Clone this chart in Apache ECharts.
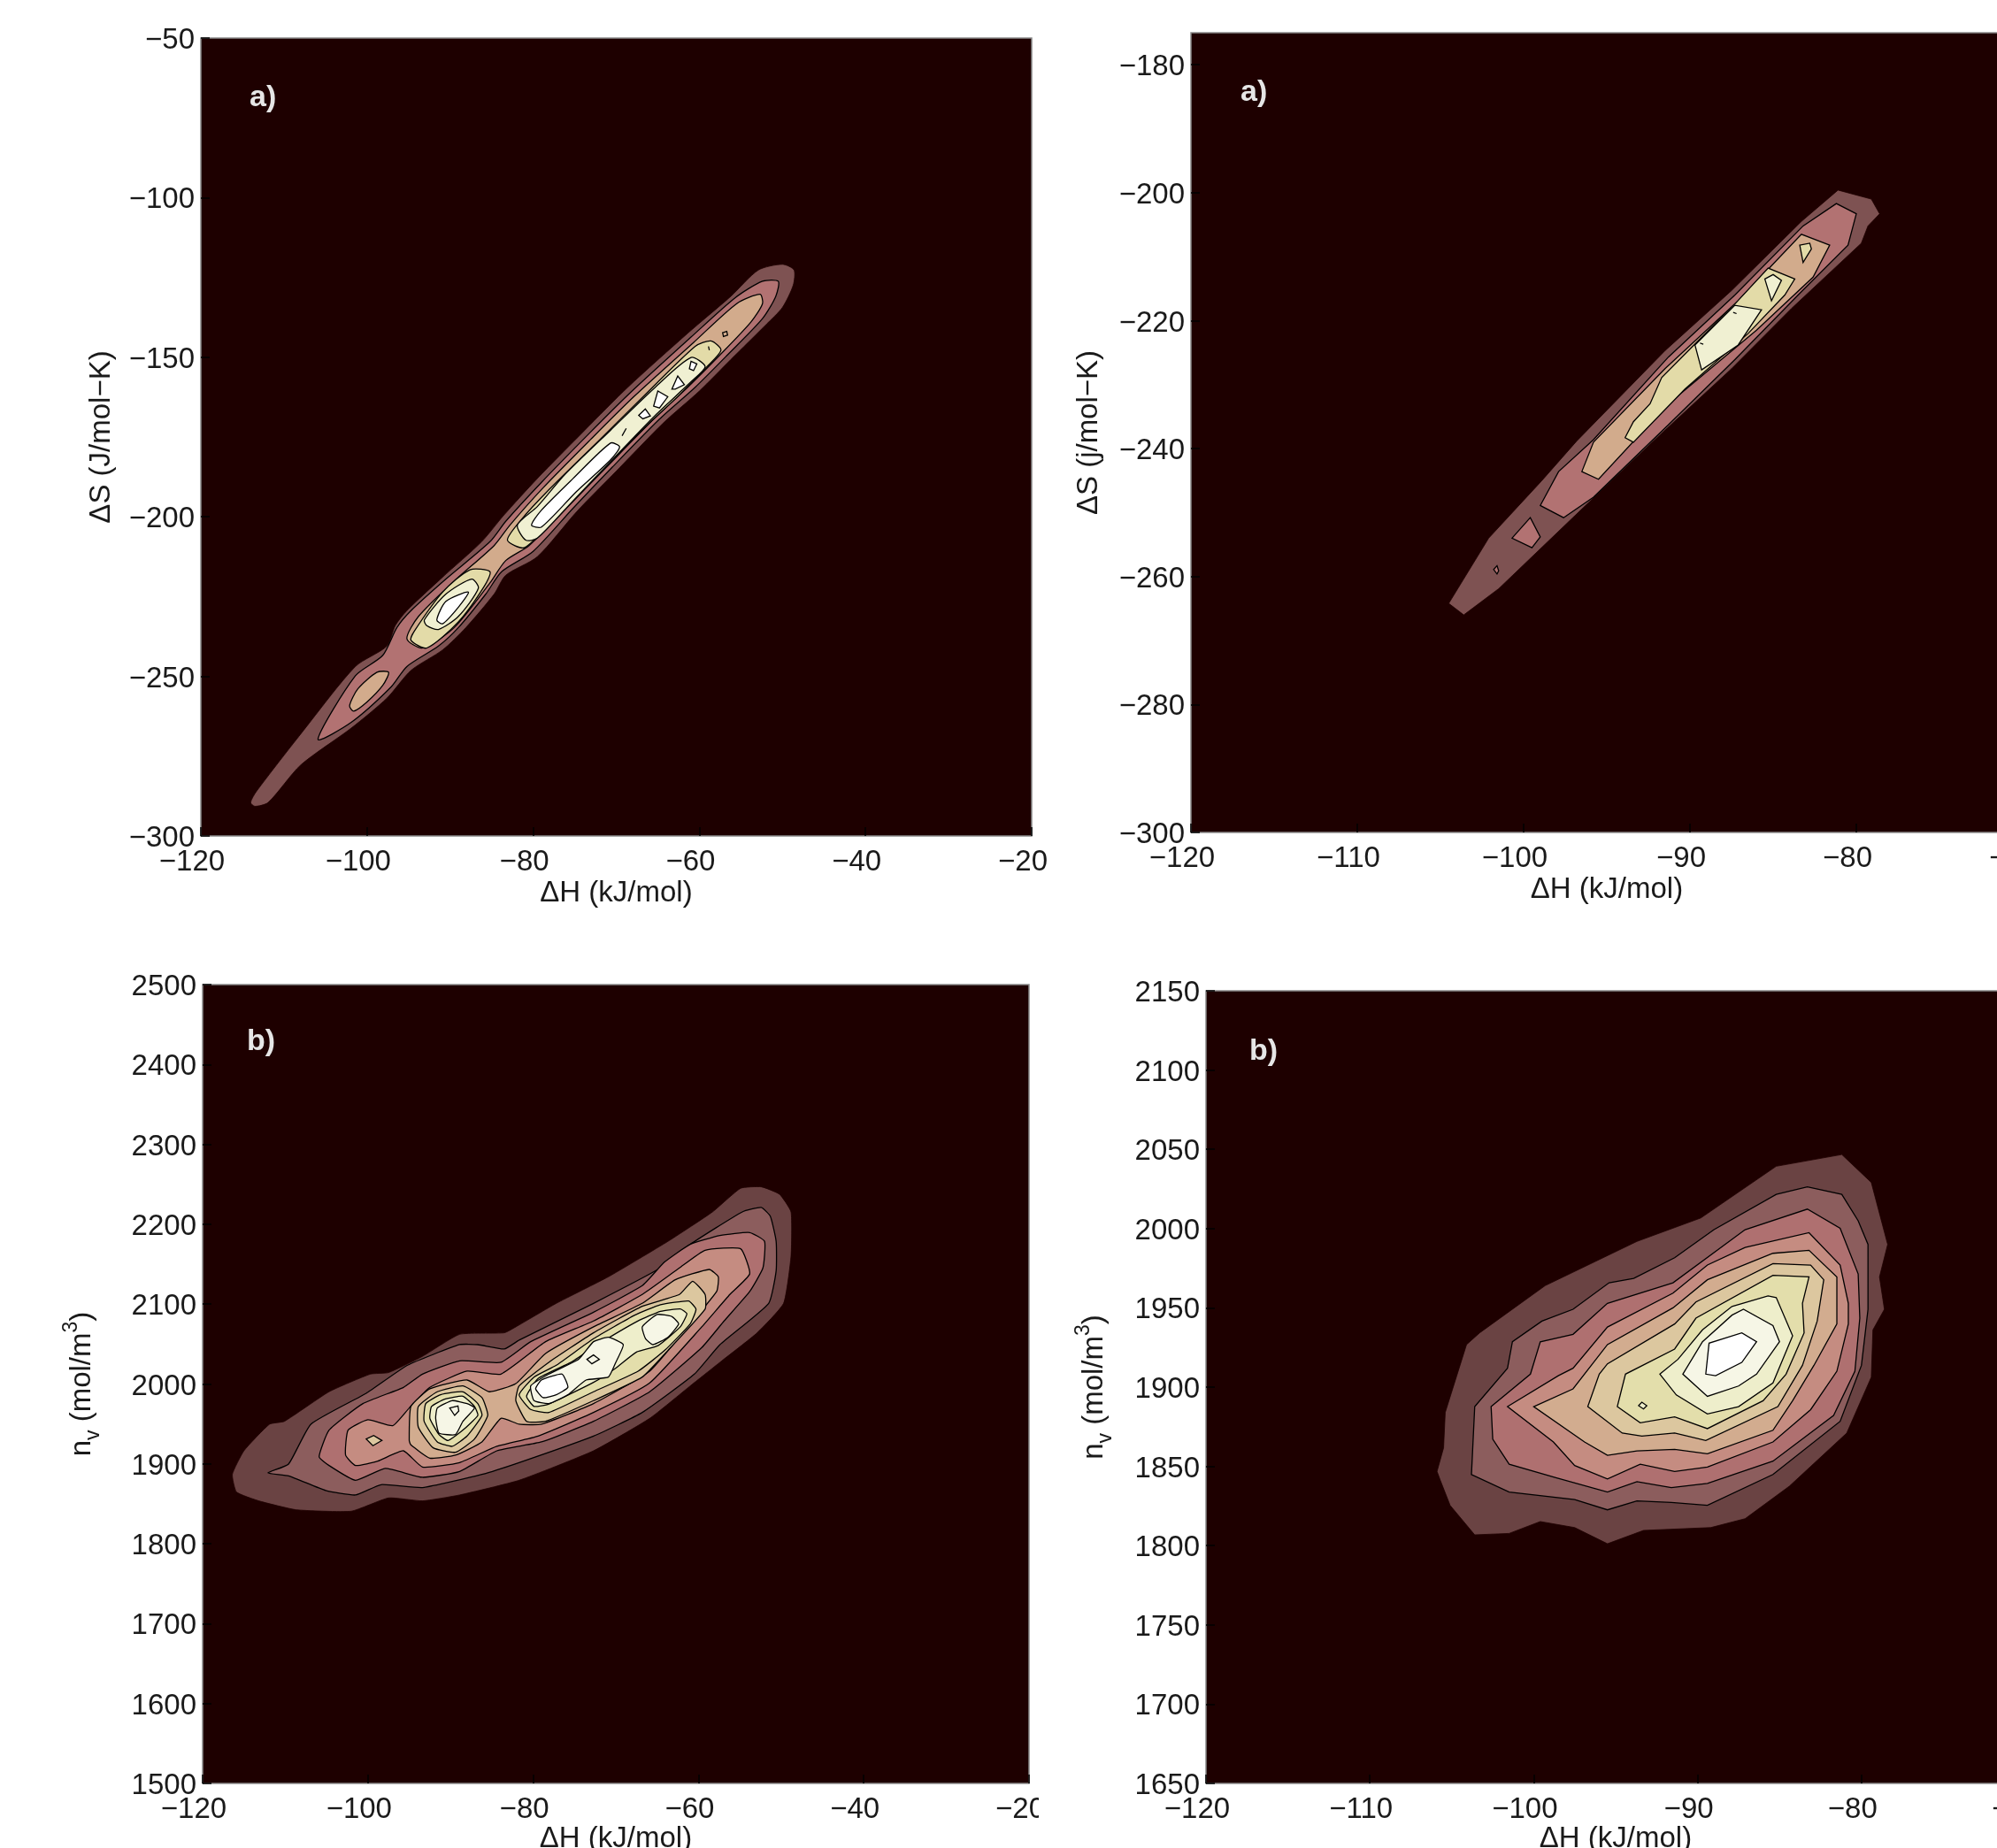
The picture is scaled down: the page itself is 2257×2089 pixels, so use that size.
<!DOCTYPE html>
<html><head><meta charset="utf-8">
<script src="https://cdn.jsdelivr.net/npm/echarts@6/dist/echarts.min.js"></script>
<style>html,body{margin:0;padding:0;background:#fff;overflow:hidden}#c{width:2257px;height:2089px}</style>
</head><body><div id="c"></div>
<script>
// ---------- panel a) left : dH vs dS (values read from the picture) ----------
const tlL1=[[-114,-289.5],[-113.3,-286],[-107.6,-266.8],[-101.4,-246.9],[-97.6,-240.5],[-96.6,-234.1],[-95.2,-229.4],[-90.9,-218.9],[-86.2,-207.8],[-83.6,-199.7],[-79.5,-188],[-73.8,-172.9],[-68.6,-159.4],[-61.4,-142.5],[-56.2,-130.9],[-52.9,-122.7],[-50,-120.9],[-48.6,-122.7],[-48.7,-127.4],[-50,-134.4],[-51.9,-139.6],[-56.2,-150.7],[-60,-160.6],[-64.3,-170.5],[-70,-185.7],[-74.8,-198.5],[-79.5,-212.5],[-83.3,-218.3],[-84.7,-224.2],[-88.1,-234.7],[-90.9,-241.7],[-94.7,-248.1],[-97.6,-256.8],[-101.9,-266.2],[-108,-277.8],[-111.9,-289.5],[-113.5,-290.7]];
const tlL2=[[-105.9,-269.7],[-101.4,-249.8],[-98.1,-243.4],[-96.4,-234.7],[-94.7,-229.4],[-90.5,-219.5],[-85.2,-207.8],[-83.3,-201.4],[-79,-189.2],[-73.3,-174],[-68.1,-160.6],[-61,-143.7],[-55.7,-131.4],[-52.4,-126.2],[-50.5,-126.2],[-50.8,-130.9],[-52.4,-137.9],[-56.7,-149.5],[-60.5,-159.4],[-64.8,-169.4],[-70.5,-184.5],[-75.2,-197.3],[-80,-210.8],[-83.8,-217.2],[-85.7,-224.2],[-89,-234.7],[-91.4,-240.5],[-95.2,-246.9],[-97.1,-253.3],[-101.9,-264.4]];
const tlL3a=[[-102.1,-259.2],[-101.1,-253.9],[-98.8,-248.7],[-97.4,-248.7],[-98.1,-252.8],[-100,-258],[-101.6,-260.9]];
const tlL3b=[[-95.2,-238.2],[-93.8,-231.2],[-89.5,-220.1],[-84.7,-209],[-82.8,-202.6],[-78.8,-190.9],[-73.1,-175.8],[-67.9,-162.4],[-60.7,-145.4],[-55.5,-133.2],[-52.7,-130.3],[-52.4,-133.2],[-53.8,-139],[-57.6,-149.5],[-61.4,-159.4],[-65.5,-169.4],[-71.2,-184.5],[-76,-197.3],[-80.5,-209],[-83.3,-213.7],[-85.2,-220.7],[-89.5,-234.7],[-93.3,-241.1]];
const tlL4a=[[-94.3,-235.8],[-90.9,-223.6],[-87.6,-216.6],[-85.2,-217.2],[-85.9,-221.8],[-89,-232.9],[-92.8,-241.1],[-94.7,-238.7]];
const tlL4b=[[-83.1,-207.3],[-81.4,-200.8],[-78.1,-191.5],[-72.4,-176.9],[-67.2,-163.5],[-60.5,-146.6],[-58.6,-144.9],[-57.4,-147.8],[-59.1,-153],[-62.4,-161.8],[-66.2,-171.1],[-71.9,-185.7],[-76.7,-198.5],[-81,-209.6]];
const tlL5a=[[-93.1,-232.3],[-90.5,-224.2],[-87.4,-219.5],[-86.6,-222.4],[-89,-231.2],[-91.4,-235.3],[-92.8,-234.1]];
const tlL5b=[[-81.9,-202.6],[-79.5,-196.8],[-76.2,-186.8],[-70.7,-172.9],[-65.3,-159.4],[-61,-150.1],[-59.3,-153],[-61,-157.7],[-65.3,-168.2],[-70.5,-182.2],[-75.2,-195],[-79.5,-206.7],[-80.9,-207.3]];
const tlL6a=[[-91.6,-232.3],[-90.5,-226.5],[-87.8,-223.6],[-89,-228.3],[-90.9,-233.5]];
const tlL6b=[[-80.2,-202.6],[-79,-197.9],[-75.2,-188],[-70.7,-176.9],[-69.6,-178.1],[-70.7,-182.2],[-74.8,-192.1],[-79,-203.2]];
const tlL6c=[[-67.3,-168.2],[-66.5,-166.2],[-65.9,-168.4],[-66.8,-169.3]];
const tlL6d=[[-65.5,-165.3],[-65,-160.6],[-63.8,-162.4],[-64.8,-165.9]];
const tlL6e=[[-63.3,-160],[-62.6,-155.9],[-61.8,-158.6],[-62.9,-160]];
const tlL6f=[[-61.2,-153.6],[-61,-151.3],[-60.3,-152.1],[-60.7,-154.2]];
const tlDot1=[[-69.3,-174.6],[-68.8,-172.3]];
const tlDot2=[[-57.2,-142.3],[-56.7,-141.9],[-56.6,-143.1],[-57.1,-143.5]];
const tlDot3=[[-58.9,-146.6],[-58.8,-147.8]];

// ---------- panel a) right ----------
const trL1=[[-104.5,-264.2],[-102.1,-254],[-98.9,-245],[-96.8,-238.8],[-91.5,-224.7],[-87.5,-215.3],[-83.3,-204.5],[-81.1,-199.6],[-79.1,-201],[-78.6,-203.3],[-79.3,-205.2],[-79.7,-207.9],[-83.9,-218.1],[-87.5,-227.5],[-91.7,-237.6],[-96.4,-249.2],[-101.5,-261.9],[-103.6,-266]];
const trL2a=[[-99,-248.9],[-97.9,-243.6],[-95.8,-238.6],[-91.3,-225.7],[-87.3,-216],[-83.2,-205.2],[-81.2,-201.7],[-80,-203.3],[-80.5,-208.2],[-83.5,-216],[-87.3,-226.1],[-91.3,-236.3],[-95.8,-247.6],[-97.6,-250.8]];
const trL2b=[[-100.7,-254],[-99.6,-250.8],[-99,-253.8],[-99.5,-255.5]];
const trL2c=[[-101.8,-258.9],[-101.6,-258.3],[-101.5,-259.1],[-101.6,-259.6]];
const trL3=[[-96.5,-243.6],[-95.8,-239],[-91.5,-227.5],[-87.1,-216.9],[-83.3,-206.5],[-81.6,-208.2],[-82.6,-213.2],[-86,-221.5],[-91.3,-233],[-95.5,-244.8]];
const trL4a=[[-93.9,-238.3],[-93.4,-235.8],[-92.4,-233],[-91.7,-228.9],[-89.6,-223.4],[-87.3,-217.4],[-85.3,-211.8],[-83.7,-213.5],[-84.3,-216],[-86.5,-222],[-90.3,-230.7],[-93.4,-239]];
const trL4b=[[-83.4,-208.2],[-82.8,-207.9],[-82.7,-208.8],[-83.2,-210.9]];
const trL5a=[[-89.7,-223.8],[-87.3,-217.6],[-85.7,-218.3],[-87.1,-223.8],[-89.3,-227.7]];
const trL5b=[[-85.5,-213.5],[-85,-212.8],[-84.5,-213.7],[-85.1,-216.9]];
const trDot1=[[-87.4,-218.7],[-87.2,-218.9]];
const trDot2=[[-89.4,-223.5],[-89.2,-223.7]];

// ---------- panel b) left : dH vs nv ----------
const blL1=[[-116.4,1886.9],[-115,1916.4],[-111.9,1949.7],[-110.1,1953.3],[-104.7,1990.3],[-99.7,2012.4],[-97.5,2014.3],[-93.4,2034.6],[-88.9,2062.2],[-83.5,2064.1],[-82.1,2071.5],[-77.2,2101],[-70.9,2134.2],[-63.7,2178.5],[-58.3,2215.4],[-54.9,2245],[-52.4,2246.8],[-50.2,2237.6],[-48.8,2215.4],[-48.8,2160],[-49.7,2101],[-52.9,2064.1],[-57.4,2027.2],[-61,1997.6],[-65.9,1957],[-72.7,1916.4],[-81.7,1879.5],[-88.9,1861.1],[-93.4,1853.7],[-97.5,1857.4],[-102,1840.8],[-108.7,1842.6],[-113.2,1853.7],[-115.9,1864.8]];
const blL2=[[-112.1,1888.7],[-109.6,1899.8],[-106.9,1949.7],[-100.2,1988.4],[-95.2,2023.5],[-88.9,2049.3],[-86.7,2049.3],[-83.5,2043.8],[-81.7,2054.9],[-72.7,2101],[-64.6,2145.3],[-61,2174.8],[-54.7,2215.4],[-52.4,2221],[-51.3,2209.9],[-50.6,2178.5],[-50.6,2141.6],[-51.5,2101],[-57.4,2049.3],[-60.5,2012.4],[-66.8,1964.4],[-72.7,1934.9],[-81.7,1901.7],[-86.2,1886.9],[-93.4,1870.3],[-98.4,1874],[-101.5,1861.1],[-105.1,1866.6],[-109.6,1885]];
const blL3=[[-105.9,1909],[-104.7,1942.3],[-100.6,1975.5],[-95.7,1995.8],[-93.4,2012.4],[-88.9,2029],[-83.9,2027.2],[-80.3,2053],[-72.7,2089.9],[-66.8,2123.1],[-64.1,2152.7],[-61,2174.8],[-57.4,2185.9],[-53.8,2189.6],[-52,2178.5],[-52.2,2145.3],[-53.8,2115.8],[-56.9,2078.9],[-59.6,2045.6],[-65.9,1990.3],[-72.7,1953.3],[-79,1927.5],[-84.4,1916.4],[-88.9,1890.6],[-93.4,1883.2],[-97.9,1894.3],[-101.5,1879.5],[-104.7,1898]];
const blL4=[[-102.7,1910.9],[-102.4,1942.3],[-100,1955.2],[-97,1947.8],[-95,1970],[-92.5,1995.8],[-88,2016.1],[-83.9,2012.4],[-78.5,2053],[-72.7,2078.9],[-66.8,2112.1],[-62.3,2145.3],[-59.2,2167.4],[-54.9,2169.3],[-53.8,2137.9],[-56.2,2112.1],[-59.6,2071.5],[-65.9,2001.3],[-72.7,1964.4],[-79.4,1934.9],[-84.4,1922],[-88.9,1901.7],[-93.4,1896.1],[-95.7,1916.4],[-98.8,1903.5],[-101.5,1898]];
const blL5=[[-95,1929.3],[-94.8,1971.8],[-92.5,1994],[-88,2005],[-85.3,1990.3],[-82.1,2000.5],[-78.5,2038.2],[-72.7,2071.5],[-66.8,2101],[-62.8,2130.5],[-58.7,2143.4],[-57.6,2134.2],[-57.8,2115.8],[-61.9,2064.1],[-65.9,2016.1],[-72.7,1975.5],[-79,1949.7],[-81.7,1949.7],[-83.9,1957],[-86.2,1927.5],[-89.4,1910.9],[-92.5,1907.2],[-94.8,1923.8]];
const blRing=[[-100.2,1931.2],[-99.3,1935.6],[-98.3,1929.3],[-99.4,1922.7]];
const blL6a=[[-93.9,1946],[-93.9,1971.8],[-91.6,1990.3],[-88.5,1997.6],[-86.2,1982.9],[-85.5,1960.7],[-87.1,1931.2],[-89.4,1914.6],[-92.1,1920.1]];
const blL6b=[[-82.1,1979.2],[-81.7,1997.6],[-78.1,2027.2],[-72.7,2064.1],[-66.8,2097.3],[-62.3,2112.1],[-60.7,2128.7],[-59.2,2112.1],[-59.2,2093.6],[-63.7,2042],[-66.8,2008.7],[-72.7,1979.2],[-78.5,1953.3],[-80.8,1953.3]];
const blL7a=[[-93.2,1953.3],[-93,1975.5],[-91.2,1986.6],[-88.5,1990.3],[-86.7,1975.5],[-86.2,1960.7],[-88,1934.9],[-89.8,1922],[-91.6,1927.5]];
const blL7b=[[-81.7,1986.6],[-79.9,2008.7],[-77.2,2023.5],[-72.7,2056.7],[-67.7,2086.2],[-64.6,2099.2],[-61.2,2104],[-60.3,2093.6],[-61,2075.2],[-64.1,2042],[-67.3,2016.1],[-72.7,1990.3],[-78.1,1964.4],[-80.3,1968.1]];
const blL8a=[[-92.5,1957],[-92.3,1971.8],[-90.7,1981],[-88.5,1984.7],[-87.1,1971.8],[-86.7,1960.7],[-88.5,1942.3],[-90.3,1929.3],[-91.4,1936.7]];
const blL8b=[[-80.8,1984.7],[-79.4,2006.9],[-75.4,2027.2],[-72.2,2049.3],[-67.3,2079],[-64.6,2091],[-62.2,2094],[-61.4,2088],[-62.2,2071.5],[-64.9,2048],[-67.5,2040],[-70,2020],[-72.7,2002],[-78.1,1975],[-79.9,1972]];
const blL9a=[[-91.8,1957],[-91.6,1970],[-89.8,1979.2],[-88,1975.5],[-87.1,1970],[-88.5,1953.3],[-89.4,1936.7],[-91.4,1938.6]];
const blL9b=[[-80.3,1997.6],[-78.1,2012.4],[-74.5,2030.9],[-72.7,2053],[-70.9,2058.5],[-69.1,2049.3],[-70,2027.2],[-70.9,2008.7],[-73.6,2005],[-75.8,1986.6],[-78.1,1975.5],[-79.9,1979.2]];
const blL9c=[[-66.8,2071.5],[-65,2087],[-63.2,2084.4],[-62.4,2075.2],[-63.7,2058.5],[-65.5,2049.3],[-66.4,2056.7]];
const blL10a=[[-79.7,1994],[-79,2005],[-76.5,2012.4],[-75.8,1995.8],[-77.2,1986.6],[-78.8,1982.9]];
const blL10b=[[-73.5,2030.9],[-72.7,2036.4],[-72,2030.9],[-72.9,2025.3]];
const blL10c=[[-90.1,1970],[-89.1,1972.5],[-89,1966.3],[-89.5,1960.7]];

// ---------- panel b) right ----------
const brL1=[[-105.9,1846.8],[-105.5,1861.7],[-105.4,1884],[-104.1,1926.8],[-103.3,1934.2],[-99.3,1964],[-93.7,1991.9],[-89.8,2006.7],[-85.2,2039.3],[-81.2,2046.7],[-79.4,2029.1],[-78.4,1990],[-78.9,1969.5],[-78.6,1949.1],[-79.3,1936.1],[-79.4,1906.3],[-80.9,1871],[-84.4,1837.5],[-87.1,1817],[-89.2,1811.4],[-93.3,1809.6],[-95.5,1801.2],[-97.5,1811.4],[-99.6,1815.2],[-101.5,1807.7],[-103.6,1806.8],[-105.1,1825.4],[-105.7,1841.2]];
const brL2=[[-103.8,1844.9],[-103.6,1887.7],[-101.6,1911.9],[-101.3,1928.6],[-99.5,1941.6],[-97.6,1949.1],[-95.4,1965.8],[-93.9,1968.6],[-91.4,1981.6],[-89,1999.3],[-85.2,2021.6],[-83.3,2026.3],[-81.2,2021.6],[-80.2,2004.9],[-79.6,1990],[-79.6,1949.1],[-80,1913.7],[-81.3,1878.4],[-85.4,1844.9],[-89.4,1825.4],[-91.6,1827.2],[-93.7,1828.2],[-95.5,1822.6],[-97.5,1829.1],[-101.5,1833.8]];
const brL3=[[-102.6,1887.7],[-100.2,1908.2],[-99.6,1928.6],[-97.6,1933.3],[-95.5,1952.8],[-91.5,1965.8],[-87.1,1999.3],[-83.3,2012.3],[-81.3,2000.2],[-80.2,1971.4],[-80.1,1943.5],[-80.4,1910],[-81.7,1882.1],[-85.4,1853.3],[-89.4,1839.3],[-91.6,1836.6],[-93.7,1840.3],[-95.5,1833.8],[-98.7,1843],[-101.5,1851.4],[-102.5,1867.2]];
const brL4=[[-101.6,1887.7],[-98.5,1907.2],[-97.6,1911.9],[-95.5,1937.9],[-91.5,1959.3],[-89.4,1977],[-87.1,1988.1],[-83.2,1997.4],[-81.3,1977],[-80.8,1952.8],[-80.8,1939.8],[-81.5,1910],[-83.1,1885.8],[-85.4,1865.4],[-89.4,1849.6],[-91.4,1846.8],[-93.5,1851.4],[-95.5,1842.1],[-97.5,1850.5],[-98.8,1865.4]];
const brL5=[[-100,1887.7],[-97.6,1898.9],[-95.5,1926.8],[-91.5,1950],[-89.4,1967.7],[-85.4,1984.4],[-83.2,1986.3],[-81.5,1969.5],[-81.5,1939.8],[-82.9,1913.7],[-84.2,1891.4],[-85.4,1872.8],[-89.4,1857.9],[-91.4,1860.7],[-93.7,1859.8],[-95.5,1857],[-96.9,1865.4]];
const brL6=[[-96.7,1887.7],[-96,1908.2],[-95.5,1914.7],[-91.4,1939.8],[-90.1,1953.7],[-85.4,1977.9],[-83.1,1977],[-82.3,1967.7],[-82.7,1941.6],[-83.6,1913.7],[-85.1,1887.7],[-89.5,1866.3],[-91.4,1871],[-93.4,1869.1],[-94.6,1871]];
const brL7=[[-94.9,1887.7],[-94.4,1908.2],[-91.4,1924],[-90.1,1943.5],[-85.4,1970.5],[-83.2,1969.5],[-83.6,1952.8],[-83.5,1934.2],[-84.6,1908.2],[-86,1891.4],[-89.4,1873.8],[-91.4,1881.2],[-93.5,1877.5]];
const brL8=[[-92.3,1908.2],[-91.2,1917.5],[-89.7,1936.1],[-87.9,1950.9],[-85.7,1957.5],[-85.2,1956.5],[-84.2,1932.3],[-85.4,1902.6],[-87.5,1887.7],[-89.4,1883.1],[-91.3,1895.1]];
const brL9=[[-90.9,1908.2],[-89.7,1928.6],[-87.9,1945.4],[-87.2,1949.1],[-85.4,1938.8],[-85,1928.6],[-86.4,1908.2],[-87.5,1900.7],[-89.4,1894.2]];
const brL10=[[-89.5,1908.2],[-89.3,1927.7],[-87.3,1934.2],[-86.4,1928.6],[-87.3,1915.6],[-88.9,1907.2]];
const brRing=[[-93.6,1888.3],[-93.4,1890.5],[-93.1,1888.3],[-93.3,1886.2]];

// fill colours per contour level (0 = field background)
const bgColor='#1e0000';
const levelsA=['#7e5252','#b27272','#d2ab8c','#e3dba8','#f0f0d2','#ffffff'];
const levelsB=['#6a4343','#8c5d5d','#af7070','#c58c81','#d2ac8f','#dcc79f','#e3deab','#eeeecb','#f6f6e6','#ffffff'];

const xLabelName='\u0394H (kJ/mol)';
const panels=[
 {grid:{left:227,top:43,width:939,height:902},x:[-120,-20,20],y:[-300,-50,50],name:'\u0394S (J/mol\u2212K)',xGap:48,yGap:96,tag:'a)',tagPos:[282,94],colors:levelsA,smooth:0.25,
  polys:[[tlL1,0],[tlL2,1],[tlL3a,2],[tlL3b,2],[tlL4a,3],[tlL4b,3],[tlL5a,4],[tlL5b,4],[tlL6a,5],[tlL6b,5],[tlL6c,5],[tlL6d,5],[tlL6e,5],[tlL6f,5],[tlDot1,4],[tlDot2,2],[tlDot3,3]]},
 {grid:{left:1346,top:37,width:940,height:904},x:[-120,-70,10],y:[-300,-175,20],name:'\u0394S (j/mol\u2212K)',xGap:48,yGap:99,tag:'a)',tagPos:[1402,88],colors:levelsA,smooth:0,
  polys:[[trL1,0],[trL2a,1],[trL2b,1],[trL2c,1],[trL3,2],[trL4a,3],[trL4b,3],[trL5a,4],[trL5b,4],[trDot1,4],[trDot2,4]]},
 {grid:{left:229,top:1113,width:934,height:903},x:[-120,-20,20],y:[1500,2500,100],name:'{t|n}{s|v}{t| (mol/m}{u|3}{t|)}',xGap:43,yGap:112,tag:'b)',tagPos:[279,1161],colors:levelsB,smooth:0.15,
  polys:[[blL1,0],[blL2,1],[blL3,2],[blL4,3],[blL5,4],[blRing,5],[blL6a,5],[blL6b,5],[blL7a,6],[blL7b,6],[blL8a,7],[blL8b,7],[blL9a,8],[blL9b,8],[blL9c,8],[blL10a,9],[blL10b,8],[blL10c,8]]},
 {grid:{left:1363,top:1120,width:926,height:896},x:[-120,-70,10],y:[1650,2150,50],name:'{t|n}{s|v}{t| (mol/m}{u|3}{t|)}',xGap:43,yGap:102,tag:'b)',tagPos:[1412,1172],colors:levelsB,smooth:0,
  polys:[[brL1,0],[brL2,1],[brL3,2],[brL4,3],[brL5,4],[brL6,5],[brL7,6],[brRing,7],[brL8,7],[brL9,8],[brL10,9]]}
];

const font='"Liberation Sans",Arial,sans-serif', fs=33, ink='#1a1a1a';
const minus=v=>String(v).replace('-','\u2212');
const option={animation:false,backgroundColor:'#fff',grid:[],xAxis:[],yAxis:[],series:[],graphic:[]};
panels.forEach((p,i)=>{
 option.grid.push(Object.assign({containLabel:false,outerBoundsMode:'none',show:true,backgroundColor:bgColor,borderColor:'#8a8a8a',borderWidth:1.5},p.grid));
 const tick={show:true,inside:true,length:10,lineStyle:{color:'#000',width:1.5}};
 option.xAxis.push({type:'value',gridIndex:i,min:p.x[0],max:p.x[1],interval:p.x[2],splitLine:{show:false},axisLine:{show:false},axisTick:tick,
  axisLabel:{formatter:minus,color:ink,fontFamily:font,fontSize:fs,margin:13,padding:[0,20,0,0],hideOverlap:false},
  name:xLabelName,nameLocation:'middle',nameGap:p.xGap,nameTextStyle:{color:ink,fontFamily:font,fontSize:fs}});
 option.yAxis.push({type:'value',gridIndex:i,min:p.y[0],max:p.y[1],interval:p.y[2],splitLine:{show:false},axisLine:{show:false},axisTick:tick,
  axisLabel:{formatter:minus,color:ink,fontFamily:font,fontSize:fs,margin:7,verticalAlign:'top',lineHeight:6,showMaxLabel:(p.y[1]-p.y[0])%p.y[2]===0,hideOverlap:false},
  name:p.name,nameLocation:'middle',nameGap:p.yGap,nameRotate:90,nameTextStyle:{color:ink,fontFamily:font,fontSize:fs,
   rich:{t:{fontFamily:font,fontSize:fs,color:ink,lineHeight:48},s:{fontFamily:font,fontSize:23,color:ink,verticalAlign:'bottom',lineHeight:48},u:{fontFamily:font,fontSize:23,color:ink,verticalAlign:'top',lineHeight:48}}}});
 option.series.push({type:'custom',xAxisIndex:i,yAxisIndex:i,silent:true,coordinateSystem:'cartesian2d',clip:true,
  data:p.polys.map((q,k)=>[k]),
  renderItem:(params,api)=>{
   const q=p.polys[api.value(0)];
   return {type:'polygon',shape:{points:q[0].map(pt=>api.coord(pt)),smooth:q[0].length>4?p.smooth:0},
    style:{fill:p.colors[q[1]],stroke:q[1]===0?bgColor:'#000',lineWidth:q[1]===0?0.8:1.3}};
  }});
 option.graphic.push({type:'text',left:p.tagPos[0],top:p.tagPos[1],z:10,style:{text:p.tag,fill:'#e6e6e6',font:'bold 34px '+font}});
});
// the source image cuts the last tick label of the lower-left panel
option.graphic.push({type:'rect',left:1174,top:2022,z:10,shape:{width:60,height:44},style:{fill:'#fff'}});
echarts.init(document.getElementById('c'),null,{renderer:'canvas'}).setOption(option);
</script></body></html>
